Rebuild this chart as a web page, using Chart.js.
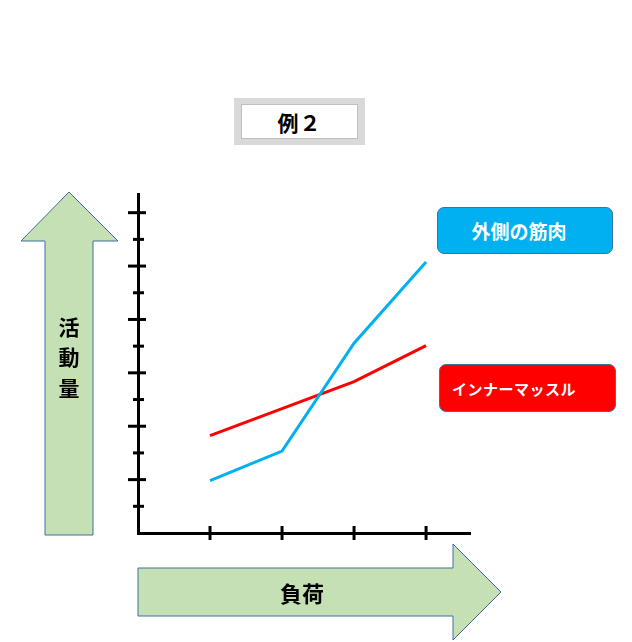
<!DOCTYPE html>
<html lang="ja">
<head>
<meta charset="utf-8">
<title>例２</title>
<script src="https://cdn.jsdelivr.net/npm/chart.js@4.4.1/dist/chart.umd.min.js"></script>
<style>
  html, body { margin: 0; padding: 0; background: #fff; }
  #wrap { position: relative; width: 632px; height: 642px; overflow: hidden;
          font-family: "Noto Sans CJK JP", "Noto Sans", sans-serif; }
  #wrap canvas { position: absolute; left: 0; top: 0; }
  .abs { position: absolute; box-sizing: border-box; }
  .title-outer { left: 234px; top: 98px; width: 131px; height: 47px; background: #d9d9d9; }
  .title-inner { left: 7px; top: 6px; width: 117px; height: 35px; background: #fff;
                 border: 1px solid #bfbfbf; display: flex; align-items: center; justify-content: center;
                 font-size: 21px; font-weight: 700; color: #000; letter-spacing: 1px; }
  .legend-box { display: flex; align-items: center; border: 1.5px solid #41719c; border-radius: 7px;
                color: #fff; font-weight: 700; }
  .axis-lbl { color: #000; font-weight: 700; font-size: 21px; line-height: 1; text-align: center; }
</style>
</head>
<body>
<div id="wrap">
  <canvas id="chart" width="632" height="642" style="width:632px;height:642px"></canvas>

  <div class="abs title-outer"><div class="abs title-inner">例２</div></div>

  <div class="abs legend-box" id="lg-outer"
       style="left:437px;top:207px;width:176px;height:47px;background:#00b0f0;justify-content:center;padding-right:12px;font-size:19px;">外側の筋肉</div>
  <div class="abs legend-box" id="lg-inner"
       style="left:439px;top:364px;width:177px;height:48px;background:#ff0000;padding-left:12px;font-size:15px;letter-spacing:0.5px;">インナーマッスル</div>

  <div class="abs axis-lbl" style="left:54px;top:316px;width:30px;">活</div>
  <div class="abs axis-lbl" style="left:54px;top:346px;width:30px;">動</div>
  <div class="abs axis-lbl" style="left:54px;top:377px;width:30px;">量</div>
  <div class="abs axis-lbl" style="left:262px;top:581px;width:80px;font-size:22px;">負荷</div>
</div>

<script>
// ---- data ----
const loadSteps   = [1, 2, 3, 4];                // x positions (負荷)
const innerMuscle = [3.65, 4.66, 5.67, 7.02];    // インナーマッスル
const outerMuscle = [1.96, 3.07, 7.11, 10.15];   // 外側の筋肉
const yTickValues = [1, 2, 3, 4, 5, 6, 7, 8, 9, 10, 11, 12];
const xTickValues = [1, 2, 3, 4];

const toPoints = vals => loadSteps.map((x, i) => ({ x, y: vals[i] }));

// green block arrows behind the chart
const arrowsPlugin = {
  id: 'arrows',
  beforeDraw(chart) {
    const ctx = chart.ctx;
    ctx.save();
    ctx.fillStyle = '#c5e0b4';
    ctx.strokeStyle = '#41719c';
    ctx.lineWidth = 1;
    // up arrow (活動量)
    ctx.beginPath();
    ctx.moveTo(69, 192); ctx.lineTo(118, 241); ctx.lineTo(93, 241); ctx.lineTo(93, 535);
    ctx.lineTo(45, 535); ctx.lineTo(45, 241); ctx.lineTo(21, 241);
    ctx.closePath(); ctx.fill(); ctx.stroke();
    // right arrow (負荷)
    ctx.beginPath();
    ctx.moveTo(138, 568); ctx.lineTo(453, 568); ctx.lineTo(453, 544); ctx.lineTo(501, 592);
    ctx.lineTo(453, 640); ctx.lineTo(453, 616); ctx.lineTo(138, 616);
    ctx.closePath(); ctx.fill(); ctx.stroke();
    ctx.restore();
  }
};

// tick marks that cross the axis lines
const crossTicksPlugin = {
  id: 'crossTicks',
  afterDraw(chart) {
    const { ctx, chartArea, scales } = chart;
    ctx.save();
    ctx.strokeStyle = '#000';
    ctx.lineWidth = 3;
    scales.y.ticks.forEach(t => {
      const py = scales.y.getPixelForValue(t.value);
      const major = t.value % 2 === 0;
      ctx.beginPath();
      ctx.moveTo(chartArea.left - (major ? 10 : 5), py);
      ctx.lineTo(chartArea.left + (major ? 8 : 6), py);
      ctx.stroke();
    });
    scales.x.ticks.forEach(t => {
      const px = scales.x.getPixelForValue(t.value);
      ctx.beginPath();
      ctx.moveTo(px, chartArea.bottom - 7);
      ctx.lineTo(px, chartArea.bottom + 7);
      ctx.stroke();
    });
    ctx.restore();
  }
};

new Chart(document.getElementById('chart'), {
  type: 'line',
  data: {
    datasets: [
      { label: '外側の筋肉', data: toPoints(outerMuscle), borderColor: '#00b0f0', borderWidth: 3, pointRadius: 0, tension: 0 },
      { label: 'インナーマッスル', data: toPoints(innerMuscle), borderColor: '#ff0000', borderWidth: 3, pointRadius: 0, tension: 0 }
    ]
  },
  options: {
    responsive: false,
    animation: false,
    devicePixelRatio: 1,
    layout: { padding: { left: 138, right: 162, top: 194, bottom: 109 } },
    plugins: { legend: { display: false }, tooltip: { enabled: false } },
    scales: {
      x: {
        type: 'linear', min: 0, max: 4.61,
        grid: { display: false, drawTicks: false },
        border: { display: true, color: '#000', width: 3 },
        ticks: { display: false },
        afterBuildTicks: s => { s.ticks = xTickValues.map(v => ({ value: v })); },
        afterFit: s => { s.height = 0; }
      },
      y: {
        type: 'linear', min: 0, max: 12.7,
        grid: { display: false, drawTicks: false },
        border: { display: true, color: '#000', width: 3 },
        ticks: { display: false },
        afterBuildTicks: s => { s.ticks = yTickValues.map(v => ({ value: v })); },
        afterFit: s => { s.width = 0; }
      }
    }
  },
  plugins: [arrowsPlugin, crossTicksPlugin]
});
</script>
</body>
</html>
